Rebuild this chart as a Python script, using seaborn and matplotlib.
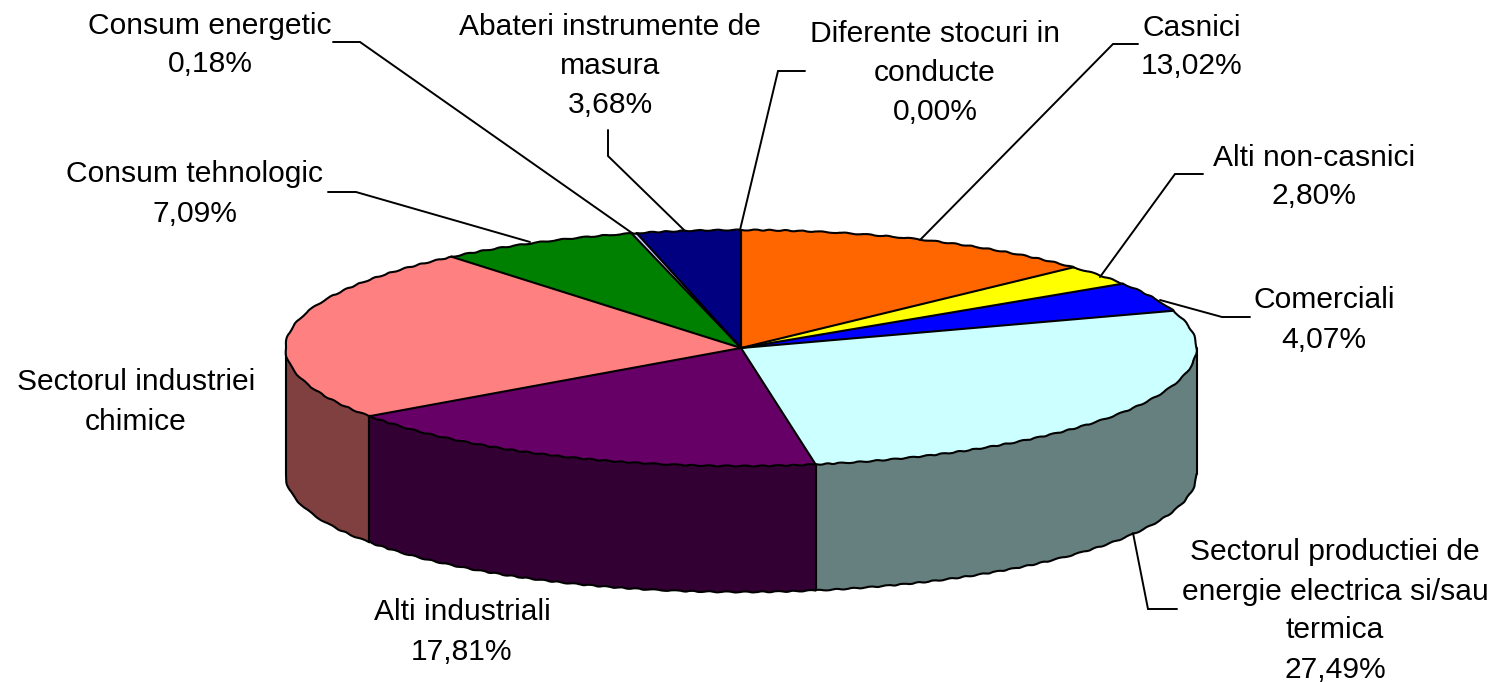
import numpy as np
import matplotlib
matplotlib.use("Agg")
import matplotlib.pyplot as plt
import seaborn as sns

# slice names, clockwise from 12 o'clock
names = ["Casnici", "Alti non-casnici", "Comerciali",
         "Sectorul productiei de\nenergie electrica si/sau\ntermica",
         "Alti industriali", "Sectorul industriei\nchimice",
         "Consum tehnologic", "Consum energetic",
         "Abateri instrumente de\nmasura", "Diferente stocuri in\nconducte"]
values = [13.02, 2.80, 4.07, 27.49, 17.81, 23.86, 7.09, 0.18, 3.68, 0.00]
# the chart prints no percentage for this one, the value is what is left of 100
no_pct = ["Sectorul industriei\nchimice"]
hex_colors = ["#FF6600", "#FFFF00", "#0000FF", "#CCFFFF", "#660066",
              "#FF8080", "#008000", "#CCCCFF", "#000080", "#FFFFFF"]

# label centres and leader lines, in picture pixels
label_x = [1192, 1314, 1324, 1335, 462, 136, 195, 210, 610, 935]
label_y = [47, 177, 320, 611, 632, 402, 194, 45, 66, 73]
leaders = [
    ([1138, 1113, 920], [44, 44, 240]),
    ([1203, 1175, 1100], [174, 174, 277]),
    ([1250, 1222, 1160], [317, 317, 300]),
    ([1133, 1148, 1177], [533, 609, 609]),
    ([328, 356, 530], [192, 192, 242]),
    ([333, 360, 632], [42, 42, 233]),
    ([608, 608, 684], [130, 156, 230]),
    ([805, 778, 740], [71, 71, 230]),
]

W, H = 1503, 682
cx, cy, rx, ry = 741, 348, 455.5, 118
depth = 126 / ry
line_w = 1.5

sns.set_theme(style="white")
plt.rcParams["font.family"] = ["Liberation Sans", "DejaVu Sans"]
palette = sns.color_palette(hex_colors)

fig = plt.figure(figsize=(W / 100, H / 100), dpi=100, facecolor="white")
ax = fig.add_axes([0, 0, 1, 1])


def arc(a0, a1):
    t = np.radians(np.linspace(a0, a1, max(int(abs(a1 - a0) * 2), 2)))
    return np.sin(t), np.cos(t)


def wobble(line):
    # the outline of the original is slightly uneven
    line.set_sketch_params(0.5, 18, 2)
    return line


edges = np.concatenate([[0], np.cumsum(values)]) * 3.6

# side wall, only the front half (90..270 degrees) can be seen
for i, col in enumerate(palette):
    a0, a1 = max(edges[i], 90), min(edges[i + 1], 270)
    if a1 <= a0:
        continue
    x, y = arc(a0, a1)
    dark = tuple(c * 0.5 for c in col)
    ax.fill(np.r_[x, x[::-1]], np.r_[y, y[::-1] - depth], color=dark, lw=0, zorder=1)
    ax.plot([x[0], x[0]], [y[0], y[0] - depth], color="black", lw=line_w, zorder=2)
    ax.plot([x[-1], x[-1]], [y[-1], y[-1] - depth], color="black", lw=line_w, zorder=2)
    wobble(ax.plot(x, y - depth, color="black", lw=line_w, zorder=2)[0])

ax.pie(values, colors=palette, startangle=90, counterclock=False, radius=1,
       wedgeprops={"linewidth": 0, "zorder": 3})

# top face outline
for i in range(len(values)):
    if values[i] > 0:
        x, y = arc(edges[i], edges[i + 1])
        wobble(ax.plot(x, y, color="black", lw=line_w, zorder=4)[0])
    t = np.radians(edges[i])
    ax.plot([0, np.sin(t)], [0, np.cos(t)], color="black", lw=line_w, zorder=4)

ax.set_aspect("auto")
ax.set_xlim(-cx / rx, (W - cx) / rx)
ax.set_ylim(-(H - cy) / ry, cy / ry)
ax.axis("off")

# overlay in picture pixels for labels and leaders
ov = fig.add_axes([0, 0, 1, 1], facecolor="none")
ov.set_xlim(0, W)
ov.set_ylim(H, 0)
ov.axis("off")

for lx, ly in leaders:
    ov.plot(lx, ly, color="black", lw=1.4, solid_joinstyle="miter")

for name, v, tx, ty in zip(names, values, label_x, label_y):
    txt = name if name in no_pct else name + "\n" + f"{v:.2f}%".replace(".", ",")
    ov.text(tx, ty, txt, ha="center", va="center", fontsize=21.6, color="black",
            linespacing=1.5)

fig.savefig("out.png", dpi=100)
